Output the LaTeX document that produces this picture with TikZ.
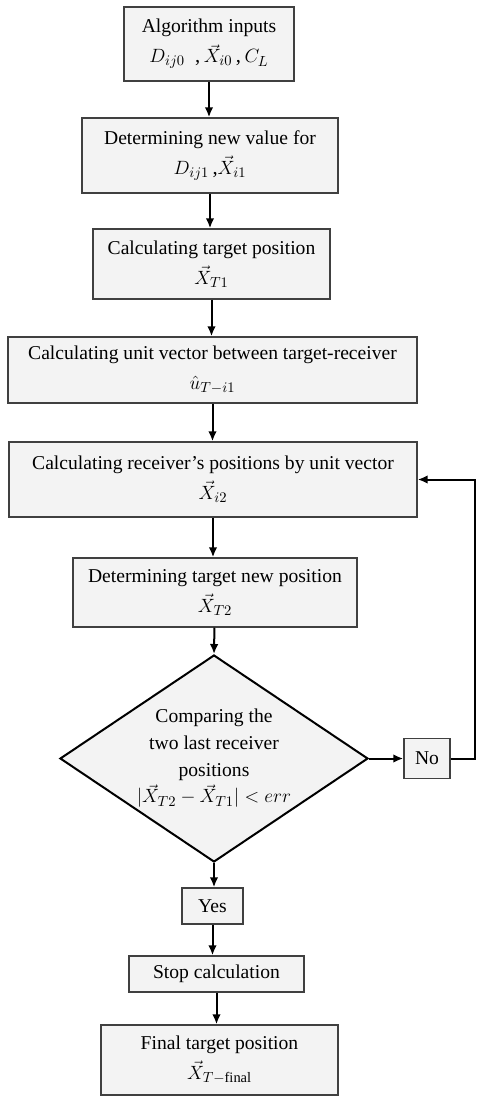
\documentclass[tikz,border=0pt]{standalone}
\usepackage{amsmath}
\usepackage{fontspec}
\setmainfont{Liberation Serif}
\usetikzlibrary{shapes.geometric,arrows.meta}
\definecolor{boxfill}{HTML}{F3F3F3}
\definecolor{boxline}{HTML}{404040}
\newcommand{\mline}[1]{{\fontsize{15.5}{22.5}\selectfont #1}}
\tikzset{
  stepbox/.style={draw=boxline, line width=1.1pt, fill=boxfill, rectangle, align=center, inner sep=2pt, font=\fontsize{14.7}{22.5}\selectfont},
  testbox/.style={draw=black, line width=1.5pt, fill=boxfill, diamond, aspect=1.5, align=center, inner sep=0pt, font=\fontsize{14.7}{20}\selectfont},
  flow/.style={-{Latex[length=7.5pt,width=6.5pt]}, line width=1.5pt},
}

\begin{document}
\begin{tikzpicture}[x=0.75pt, y=-0.75pt]
  \useasboundingbox (0,0) rectangle (477,1100);
  % Nodes
  \node[stepbox, minimum width=127.5pt, minimum height=55.5pt] (Inputs) at (209,44) {Algorithm inputs\\ \mline{$D_{ij0}$\ \ ,\,$\vec{X}_{i0}$\,,\,$C_L$}};
  \node[stepbox, minimum width=192pt, minimum height=56.25pt] (NewVal) at (210,155.5) {Determining new value for\\ \mline{$D_{ij1}$\,,$\vec{X}_{i1}$}};
  \node[stepbox, minimum width=177.75pt, minimum height=52.5pt] (TPosA) at (211.5,264) {Calculating target position\\ \mline{$\vec{X}_{T1}$}};
  \node[stepbox, minimum width=306.75pt, minimum height=49.5pt] (Unit) at (212.5,370) {Calculating unit vector between target-receiver\\ \mline{$\hat{u}_{T-i1}$}};
  \node[stepbox, minimum width=306pt, minimum height=56.25pt] (Recv) at (213,479.5) {Calculating receiver's positions by unit vector\\ \mline{$\vec{X}_{i2}$}};
  \node[stepbox, minimum width=213pt, minimum height=51.75pt] (TPosB) at (215,592.5) {Determining target new position\\ \mline{$\vec{X}_{T2}$}};
  \node[testbox, minimum width=231pt, minimum height=155.25pt] (Cmp) at (214,758.5) {Comparing the\\ two last receiver\\ positions\\ \mline{$\lvert\vec{X}_{T2}-\vec{X}_{T1}\rvert < err$}};
  \node[stepbox, minimum width=34.5pt, minimum height=30pt] (No) at (427,758.5) {No};
  \node[stepbox, minimum width=45.75pt, minimum height=27pt] (Yes) at (212.5,906) {Yes};
  \node[stepbox, minimum width=131.25pt, minimum height=27pt] (Stop) at (216.5,974) {Stop calculation};
  \node[stepbox, minimum width=177.75pt, minimum height=52.5pt] (Final) at (219.5,1060) {Final target position\\ \mline{$\vec{X}_{T-\mathrm{final}}$}};
  \coordinate (Back) at (475,758.5);
  % Edges
  \draw[flow] (Inputs) -- (Inputs |- NewVal.north);
  \draw[flow] (NewVal) -- (NewVal |- TPosA.north);
  \draw[flow] (TPosA) -- (TPosA |- Unit.north);
  \draw[flow] (Unit) -- (Unit |- Recv.north);
  \draw[flow] (Recv) -- (Recv |- TPosB.north);
  \draw[flow] (TPosB) -- (Cmp.north);
  \draw[flow] (Cmp.east) -- (No.west);
  \draw[flow] (Cmp.south) -- (Cmp.south |- Yes.north);
  \draw[flow] (Yes) -- (Yes |- Stop.north);
  \draw[flow] (Stop) -- (Stop |- Final.north);

  % Loop back
  \draw[flow] (No.east) -- (Back) |- (Recv.east);
\end{tikzpicture}
\end{document}
